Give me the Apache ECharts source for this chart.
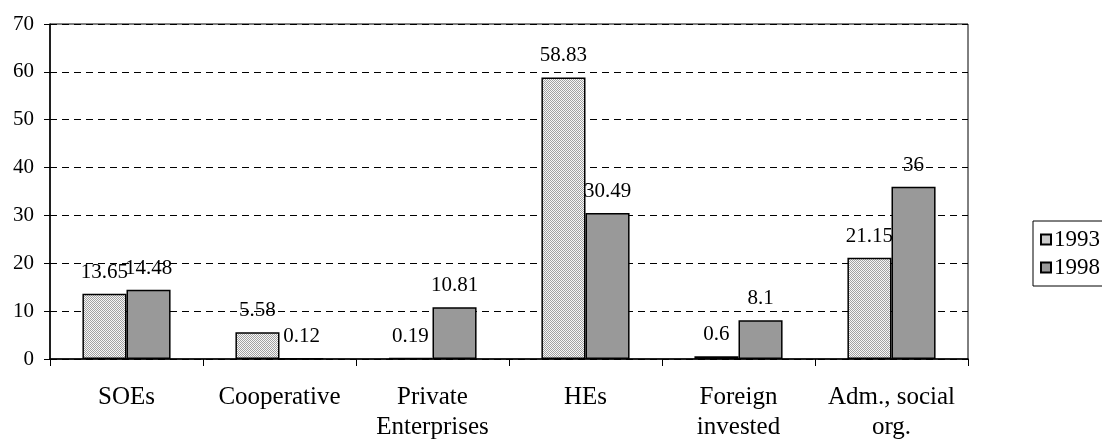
<!DOCTYPE html>
<html>
<head>
<meta charset="utf-8">
<script src="https://cdn.jsdelivr.net/npm/echarts@6/dist/echarts.min.js"></script>
<style>
  html, body { margin: 0; padding: 0; background: #fff; }
  #main { width: 1102px; height: 442px; }
</style>
</head>
<body>
<div id="main"></div>
<script>
const categories = ['SOEs', 'Cooperative', 'Private\nEnterprises', 'HEs', 'Foreign\ninvested', 'Adm., social\norg.']
const values1993 = [13.65, 5.58, 0.19, 58.83, 0.6, 21.15]
const values1998 = [14.48, 0.12, 10.81, 30.49, 8.1, 36]
const yTicks = [0, 10, 20, 30, 40, 50, 60, 70]

// 1993 的点状填充
function dotPattern () {
  let c = document.createElement('canvas')
  c.width = 2
  c.height = 2
  let ctx = c.getContext('2d')
  ctx.fillStyle = '#f7f7f7'
  ctx.fillRect(0, 0, 2, 2)
  ctx.fillStyle = '#a2a2a2'
  ctx.fillRect(0, 0, 1, 1)
  ctx.fillRect(1, 1, 1, 1)
  return c
}

const font = 'Liberation Serif'
const valueLabel = { show: true, position: 'top', distance: 11, fontFamily: font, fontSize: 21, color: '#000' }

let myChart = echarts.init(document.getElementById('main'))
let option = {
  animation: false,
  backgroundColor: '#fff',
  textStyle: { fontFamily: font, color: '#000' },
  grid: {
    left: 50,
    top: 24,
    width: 918,
    height: 335,
    show: true,
    borderColor: '#000',
    borderWidth: 1
  },
  legend: {
    orient: 'vertical',
    left: 1033,
    top: 221,
    padding: [7, 20, 7, 7],
    icon: 'rect',
    itemWidth: 10,
    itemHeight: 10,
    itemGap: 5,
    borderColor: '#000',
    borderWidth: 1,
    textStyle: { fontFamily: font, fontSize: 23, color: '#000', padding: [0, 0, 0, -2] },
    data: ['1993', '1998']
  },
  xAxis: {
    type: 'category',
    data: categories,
    axisLine: { lineStyle: { color: '#000', width: 1.5 } },
    axisTick: { show: true, length: 7, interval: 0, lineStyle: { color: '#000' } },
    axisLabel: {
      interval: 0,
      margin: 23,
      fontFamily: font,
      fontSize: 25,
      lineHeight: 30,
      color: '#000'
    }
  },
  yAxis: {
    type: 'value',
    min: yTicks[0],
    max: yTicks[yTicks.length - 1],
    interval: 10,
    axisLine: { show: true, lineStyle: { color: '#000', width: 1.5 } },
    axisTick: { show: true, length: 6, lineStyle: { color: '#000' } },
    axisLabel: { margin: 16, fontFamily: font, fontSize: 21, color: '#000' },
    splitLine: { lineStyle: { color: '#000', type: [7, 5], width: 1 } }
  },
  series: [
    {
      name: '1993',
      type: 'bar',
      data: values1993,
      barWidth: '28.8%',
      barGap: '0%',
      itemStyle: {
        color: { image: dotPattern(), repeat: 'repeat' },
        borderColor: '#000',
        borderWidth: 1.5
      },
      label: valueLabel
    },
    {
      name: '1998',
      type: 'bar',
      data: values1998,
      barWidth: '28.8%',
      barGap: '0%',
      itemStyle: {
        color: '#999999',
        borderColor: '#000',
        borderWidth: 1.5
      },
      label: valueLabel
    }
  ]
}
myChart.setOption(option)
</script>
</body>
</html>
